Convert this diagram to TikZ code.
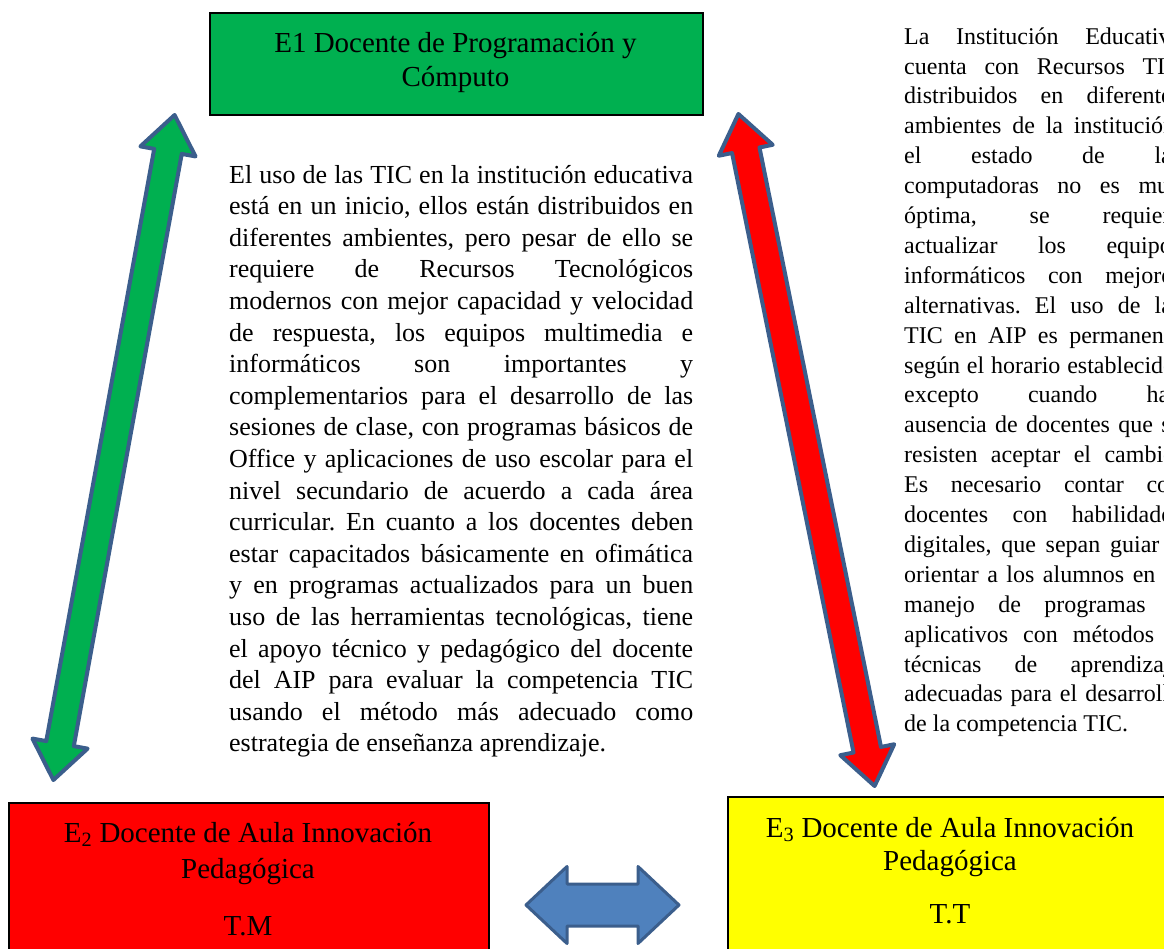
\documentclass[tikz,border=0pt]{standalone}
\usepackage{fontspec}
\setmainfont{Liberation Serif}
\usetikzlibrary{calc}
\definecolor{gfill}{HTML}{00B050}
\definecolor{rfill}{HTML}{FF0000}
\definecolor{yfill}{HTML}{FFFF00}
\definecolor{bfill}{HTML}{4F81BD}
\definecolor{aline}{HTML}{3B5E8C}
% double block arrow: #1 tip A, #2 tip B, #3 head half width, #4 shaft half width, #5 head length, #6 style
\newcommand{\dblarrow}[6]{%
  \path ($(#1)!#5!(#2)$) coordinate (ba1) ($(#2)!#5!(#1)$) coordinate (ba2);
  \draw[#6] (#1) -- ($(ba1)!#3!90:(#2)$) -- ($(ba1)!#4!90:(#2)$)
    -- ($(ba2)!#4!-90:(#1)$) -- ($(ba2)!#3!-90:(#1)$) -- (#2)
    -- ($(ba2)!#3!90:(#1)$) -- ($(ba2)!#4!90:(#1)$)
    -- ($(ba1)!#4!-90:(#2)$) -- ($(ba1)!#3!-90:(#2)$) -- cycle;}
\newcommand{\normsp}{\spaceskip=0pt\xspaceskip=0pt\frenchspacing}
\newcommand{\ml}[1]{\makebox[464pt][s]{\normsp #1}\\}
\newcommand{\rl}[1]{\makebox[277pt][s]{\normsp #1}\\}
\begin{document}
\begin{tikzpicture}[x=1pt,y=-1pt,
  boxstyle/.style={draw=black, line width=2pt, inner sep=0pt, anchor=north west},
  boxtext/.style={font=\fontsize{29}{34}\selectfont, align=center, inner sep=0pt, anchor=base},
  paratext/.style={inner sep=0pt, anchor=north west, align=left},
  blockarr/.style={draw=aline, line width=4pt, line join=round}]
\path[use as bounding box] (0,0) rectangle (1164,949);
\clip (0,0) rectangle (1164,949);
\fill[white] (0,0) rectangle (1164,949);

% boxes
\node[boxstyle, fill=gfill, minimum width=493pt, minimum height=102pt] (e1) at (209,12) {};
\node[boxtext] (e1t) at (455.5,87) {E1 Docente de Programación y\\Cómputo};

\node[boxstyle, fill=rfill, minimum width=480pt, minimum height=200pt] (e2) at (8,802) {};
\node[boxtext, font=\fontsize{29}{36}\selectfont] (e2t) at (248,935)
  {E\textsubscript{2} Docente de Aula Innovación\\Pedagógica\\[21pt]T.M};

\node[boxstyle, line width=1.5pt, fill=yfill, minimum width=460pt, minimum height=200pt] (e3) at (727,796) {};
\node[boxtext, font=\fontsize{29}{33}\selectfont] (e3t) at (950,923)
  {E\textsubscript{3} Docente de Aula Innovación\\Pedagógica\\[20pt]T.T};

% middle paragraph
\node[paratext, text width=464pt, font=\fontsize{26}{31.6}\selectfont] (mid) at (229,162) {\normsp\rule{0pt}{21pt}%
\ml{El uso de las TIC en la institución educativa}
\ml{está en un inicio, ellos están distribuidos en}
\ml{diferentes ambientes, pero pesar de ello se}
\ml{requiere de Recursos Tecnológicos}
\ml{modernos con mejor capacidad y velocidad}
\ml{de respuesta, los equipos multimedia e}
\ml{informáticos son importantes y}
\ml{complementarios para el desarrollo de las}
\ml{sesiones de clase, con programas básicos de}
\ml{Office y aplicaciones de uso escolar para el}
\ml{nivel secundario de acuerdo a cada área}
\ml{curricular. En cuanto a los docentes deben}
\ml{estar capacitados básicamente en ofimática}
\ml{y en programas actualizados para un buen}
\ml{uso de las herramientas tecnológicas, tiene}
\ml{el apoyo técnico y pedagógico del docente}
\ml{del AIP para evaluar la competencia TIC}
\ml{usando el método más adecuado como}
estrategia de enseñanza aprendizaje.};

% right paragraph
\node[paratext, text width=277pt, font=\fontsize{24}{29.9}\selectfont] (rtext) at (904,25) {\normsp\rule{0pt}{19pt}%
\rl{La Institución Educativa}
\rl{cuenta con Recursos TIC}
\rl{distribuidos en diferentes}
\rl{ambientes de la institución,}
\rl{el estado de las}
\rl{computadoras no es muy}
\rl{óptima, se requiere}
\rl{actualizar los equipos}
\rl{informáticos con mejores}
\rl{alternativas. El uso de las}
\rl{TIC en AIP es permanente}
\rl{según el horario establecido,}
\rl{excepto cuando hay}
\rl{ausencia de docentes que se}
\rl{resisten aceptar el cambio.}
\rl{Es necesario contar con}
\rl{docentes con habilidades}
\rl{digitales, que sepan guiar y}
\rl{orientar a los alumnos en el}
\rl{manejo de programas y}
\rl{aplicativos con métodos y}
\rl{técnicas de aprendizaje}
\rl{adecuadas para el desarrollo}
de la competencia TIC.};

% block arrows
\coordinate (ga) at (174.6,115);
\coordinate (gb) at (53.4,780);
\dblarrow{ga}{gb}{28pt}{14pt}{37pt}{blockarr, fill=gfill}

\coordinate (ra) at (738.4,114);
\coordinate (rb) at (874.6,786);
\dblarrow{ra}{rb}{27.5pt}{14pt}{37pt}{blockarr, fill=rfill}

\coordinate (bl) at (526,905);
\coordinate (br) at (679,905);
\dblarrow{bl}{br}{38.5pt}{21pt}{41pt}{blockarr, line width=3pt, fill=bfill}
\end{tikzpicture}
\end{document}
